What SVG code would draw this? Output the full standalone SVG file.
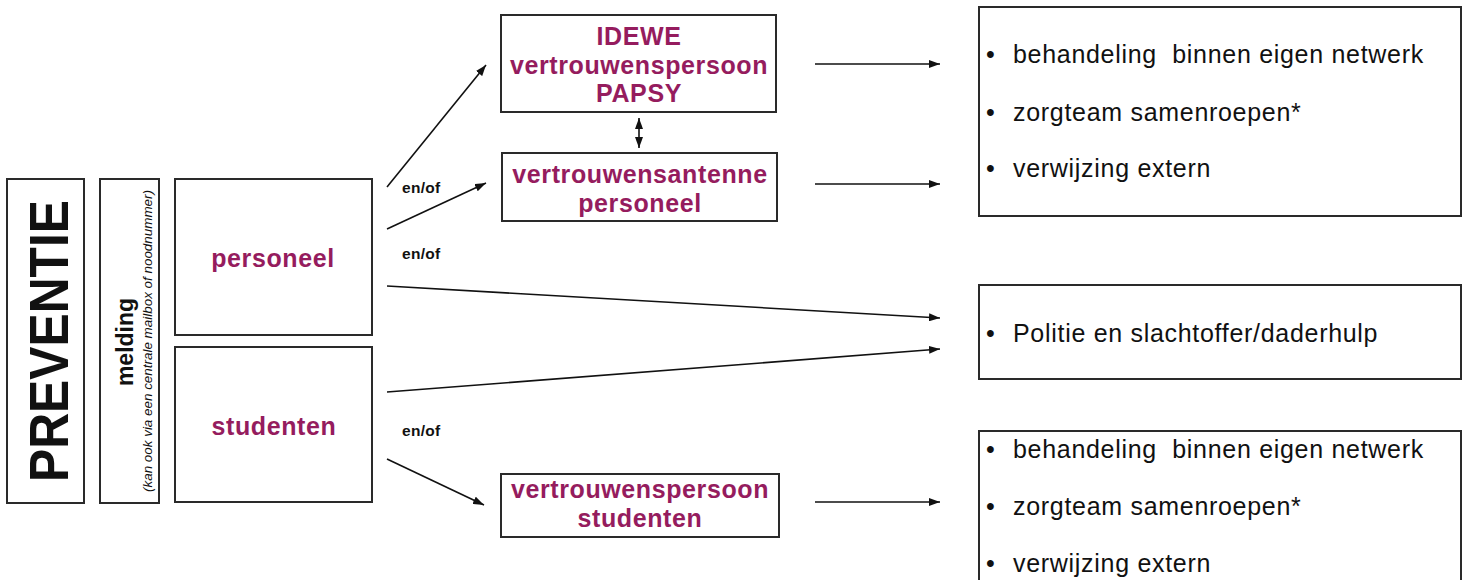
<svg xmlns="http://www.w3.org/2000/svg" width="1467" height="580" viewBox="0 0 1467 580">
<style>
.box{fill:#fff;stroke:#2a2a2a;stroke-width:2}
.mag{font-family:"Liberation Sans",Arial,sans-serif;font-weight:bold;fill:#951c5e;text-anchor:middle;letter-spacing:0.6px}
.blk{font-family:"Liberation Sans",Arial,sans-serif;fill:#111}
.li{letter-spacing:0.7px;white-space:pre}
.lbl{font-family:"Liberation Sans",Arial,sans-serif;font-weight:bold;font-size:15.5px;fill:#111;letter-spacing:0.3px}
.con{stroke:#111;stroke-width:1.6;fill:none;marker-end:url(#ah)}
</style>
<defs>
<marker id="ah" markerUnits="userSpaceOnUse" markerWidth="11" markerHeight="8" refX="11" refY="4" orient="auto-start-reverse">
<path d="M0,0 L11,4 L0,8 z" fill="#111"/>
</marker>
</defs>
<rect width="1467" height="580" fill="#fff"/>
<g id="preventie">
<rect class="box" x="7" y="179" width="77" height="324"/>
<text class="blk" x="0" y="0" font-size="56" font-weight="bold" text-anchor="middle" textLength="282" lengthAdjust="spacingAndGlyphs" transform="translate(68,341) rotate(-90)">PREVENTIE</text>
</g>
<g id="melding">
<rect class="box" x="100" y="179" width="59" height="324"/>
<text class="blk" x="0" y="0" font-size="23" font-weight="bold" text-anchor="middle" transform="translate(133,342) rotate(-90)">melding</text>
<text class="blk" x="0" y="0" font-size="13.5" font-style="italic" text-anchor="middle" textLength="302" lengthAdjust="spacingAndGlyphs" transform="translate(152,341) rotate(-90)">(kan ook via een centrale mailbox of noodnummer)</text>
</g>
<g id="personeel">
<rect class="box" x="175" y="179" width="197" height="156"/>
<text class="mag" x="273" y="267" font-size="25">personeel</text>
</g>
<g id="studenten">
<rect class="box" x="175" y="347" width="197" height="155"/>
<text class="mag" x="274" y="435" font-size="25">studenten</text>
</g>
<g id="idewe">
<rect class="box" x="501" y="15" width="275" height="97"/>
<text class="mag" x="639" y="45" font-size="25">IDEWE</text>
<text class="mag" x="639" y="74" font-size="25">vertrouwenspersoon</text>
<text class="mag" x="639" y="102" font-size="25">PAPSY</text>
</g>
<g id="antenne">
<rect class="box" x="502" y="153" width="275" height="68"/>
<text class="mag" x="640" y="183" font-size="25">vertrouwensantenne</text>
<text class="mag" x="640" y="212" font-size="25">personeel</text>
</g>
<g id="vp-studenten">
<rect class="box" x="501" y="474" width="278" height="63"/>
<text class="mag" x="640" y="498" font-size="25">vertrouwenspersoon</text>
<text class="mag" x="640" y="527" font-size="25">studenten</text>
</g>
<g id="result-top">
<rect class="box" x="979" y="7" width="482" height="209"/>
<text class="blk" font-size="25"><tspan x="986" y="63">•</tspan><tspan class="li" x="1013" y="63">behandeling  binnen eigen netwerk</tspan></text>
<text class="blk" font-size="25"><tspan x="986" y="121">•</tspan><tspan class="li" x="1013" y="121">zorgteam samenroepen*</tspan></text>
<text class="blk" font-size="25"><tspan x="986" y="177">•</tspan><tspan class="li" x="1013" y="177">verwijzing extern</tspan></text>
</g>
<g id="result-politie">
<rect class="box" x="979" y="285" width="482" height="94"/>
<text class="blk" font-size="25"><tspan x="986" y="342">•</tspan><tspan class="li" x="1013" y="342">Politie en slachtoffer/daderhulp</tspan></text>
</g>
<g id="result-bottom">
<rect class="box" x="979" y="431" width="482" height="160"/>
<text class="blk" font-size="25"><tspan x="986" y="458">•</tspan><tspan class="li" x="1013" y="458">behandeling  binnen eigen netwerk</tspan></text>
<text class="blk" font-size="25"><tspan x="986" y="515">•</tspan><tspan class="li" x="1013" y="515">zorgteam samenroepen*</tspan></text>
<text class="blk" font-size="25"><tspan x="986" y="572">•</tspan><tspan class="li" x="1013" y="572">verwijzing extern</tspan></text>
</g>
<g id="connectors">
<line class="con" x1="387" y1="187" x2="486" y2="65"/>
<line class="con" x1="387" y1="229" x2="486" y2="183"/>
<line class="con" x1="387" y1="286" x2="940" y2="318"/>
<line class="con" x1="387" y1="392" x2="940" y2="349"/>
<line class="con" x1="387" y1="459" x2="484" y2="505"/>
<line class="con" x1="639" y1="118" x2="639" y2="148" style="marker-start:url(#ah)"/>
<line class="con" x1="815" y1="64" x2="940" y2="64"/>
<line class="con" x1="815" y1="184" x2="940" y2="184"/>
<line class="con" x1="815" y1="502" x2="940" y2="502"/>
<text class="lbl" x="402" y="193">en/of</text>
<text class="lbl" x="402" y="259">en/of</text>
<text class="lbl" x="402" y="436">en/of</text>
</g>
</svg>
